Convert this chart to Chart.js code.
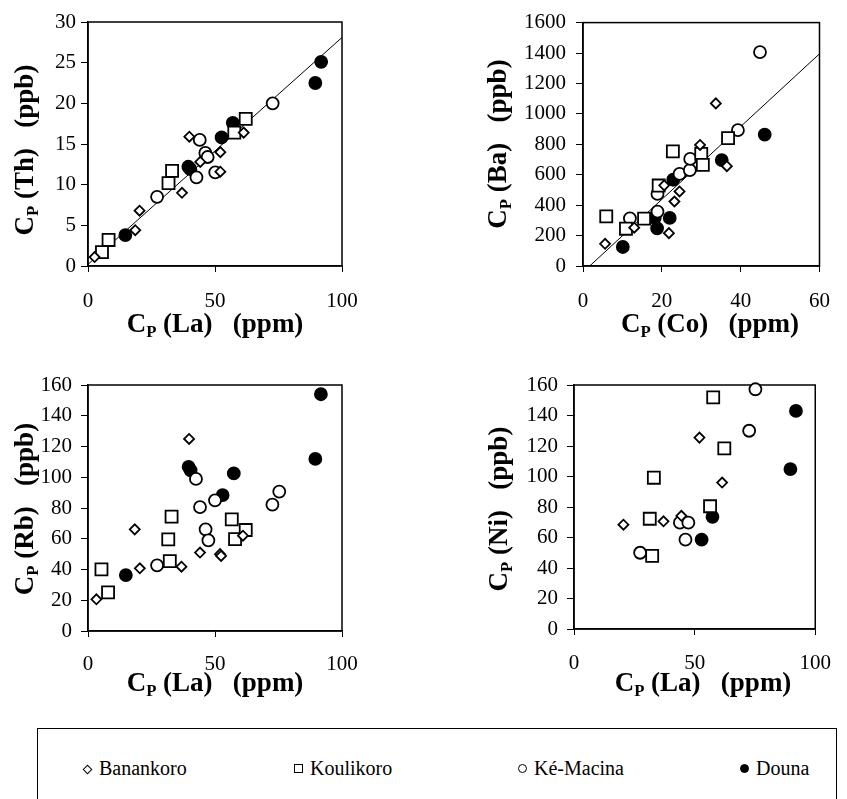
<!DOCTYPE html>
<html>
<head>
<meta charset="utf-8">
<script src="https://cdn.jsdelivr.net/npm/chart.js@4.4.0/dist/chart.umd.min.js"></script>
<style>
body { margin: 0; background: #fff; }
#page { position: relative; width: 847px; height: 799px; overflow: hidden; background: #fff;
        font-family: "Liberation Serif", "Times New Roman", serif; color: #000; }
canvas { position: absolute; }
.title { position: absolute; font-weight: bold; font-size: 27px; white-space: pre; line-height: 1;
         transform: translate(-50%, -50%); }
.title.rot { transform: translate(-50%, -50%) rotate(-90deg); }
.title sub { font-size: 0.62em; vertical-align: -0.3em; line-height: 0; }
#legend { position: absolute; left: 37px; top: 728px; width: 798px; height: 90px; border: 1.5px solid #000; }
.item { position: absolute; top: 28px; font-size: 20px; white-space: nowrap; }
.sym { display: inline-block; box-sizing: border-box; border: 1.6px solid #000; background: #fff; margin-right: 7px; vertical-align: 2px; }
.sym.diamond { width: 7px; height: 7px; transform: rotate(45deg); margin-left: 1px; margin-right: 8px; }
.sym.square { width: 9px; height: 9px; }
.sym.circle { width: 9px; height: 9px; border-radius: 50%; }
.sym.dot { width: 9px; height: 9px; border-radius: 50%; background: #000; }
</style>
</head>
<body>
<div id="page">
  <canvas id="th" width="420" height="340" style="left:0;top:0"></canvas>
  <canvas id="ba" width="427" height="340" style="left:420px;top:0"></canvas>
  <canvas id="rb" width="420" height="330" style="left:0;top:340px"></canvas>
  <canvas id="ni" width="427" height="330" style="left:420px;top:340px"></canvas>

  <div class="title rot" style="left:24px;top:150px">C<sub>P</sub> (Th)   (ppb)</div>
  <div class="title" style="left:215px;top:323px">C<sub>P</sub> (La)   (ppm)</div>
  <div class="title rot" style="left:497px;top:144px">C<sub>P</sub> (Ba)   (ppb)</div>
  <div class="title" style="left:710px;top:323px">C<sub>P</sub> (Co)   (ppm)</div>
  <div class="title rot" style="left:24px;top:509px">C<sub>P</sub> (Rb)   (ppb)</div>
  <div class="title" style="left:215px;top:682px">C<sub>P</sub> (La)   (ppm)</div>
  <div class="title rot" style="left:498px;top:509px">C<sub>P</sub> (Ni)   (ppb)</div>
  <div class="title" style="left:703px;top:682px">C<sub>P</sub> (La)   (ppm)</div>

  <div id="legend">
    <div class="item" style="left:45px"><span class="sym diamond"></span>Banankoro</div>
    <div class="item" style="left:256px"><span class="sym square"></span>Koulikoro</div>
    <div class="item" style="left:480px"><span class="sym circle"></span>Ké-Macina</div>
    <div class="item" style="left:702px"><span class="sym dot"></span>Douna</div>
  </div>
</div>

<script>
// sites, in legend order
const sites = ["Banankoro", "Koulikoro", "Ké-Macina", "Douna"]

// Th (ppb) vs La (ppm)
const thBanankoro = [[2.6,1.1],[18.6,4.4],[20.3,6.8],[37,9.0],[39.9,15.9],[44.2,12.8],[52.1,14.0],[52.1,11.6],[61.3,16.4]]
const thKoulikoro = [[5.5,1.7],[8.1,3.2],[31.7,10.2],[33.1,11.7],[57.6,16.4],[62.1,18.1]]
const thKeMacina  = [[27.2,8.5],[42.7,10.9],[44,15.5],[46.2,13.9],[47.1,13.4],[50.1,11.5],[72.7,20.0]]
const thDouna     = [[14.7,3.8],[39.5,12.2],[40.3,11.9],[52.6,15.8],[57.0,17.6],[89.5,22.5],[91.8,25.1]]
const thLine      = [[0,0.2],[100,28.1]]
const thXTicks = [0, 50, 100]
const thYTicks = [0, 5, 10, 15, 20, 25, 30]

// Ba (ppb) vs Co (ppm)
const baBanankoro = [[5.6,146],[13.0,252],[20.6,530],[21.8,216],[23.2,424],[24.5,490],[29.7,796],[33.7,1069],[36.5,656]]
const baKoulikoro = [[5.9,326],[10.9,245],[15.5,311],[19.2,529],[22.8,753],[30.0,737],[30.4,665],[36.8,841]]
const baKeMacina  = [[11.9,313],[18.9,474],[18.9,358],[24.5,605],[27.1,630],[27.2,704],[39.3,893],[44.9,1406]]
const baDouna     = [[10.1,125],[18.2,317],[18.8,248],[22.0,316],[22.9,567],[35.2,696],[46.1,864]]
const baLine      = [[1.7,0],[60,1395]]
const baXTicks = [0, 20, 40, 60]
const baYTicks = [0, 200, 400, 600, 800, 1000, 1200, 1400, 1600]

// Rb (ppb) vs La (ppm)
const rbBanankoro = [[3.3,20.6],[18.4,66.1],[20.4,40.8],[36.8,41.8],[39.8,124.9],[44.1,51.0],[52,50],[52.4,48.8],[61,62]]
const rbKoulikoro = [[5.3,40.1],[7.9,25.1],[31.6,59.6],[32.2,45.5],[32.9,74.4],[56.6,72.6],[57.9,59.8],[62.1,65.7]]
const rbKeMacina  = [[27.2,42.7],[42.5,98.9],[44.1,80.6],[46.3,66.1],[47.4,59],[50,85],[72.6,82.2],[75.3,90.7]]
const rbDouna     = [[14.9,36.4],[39.6,106.8],[40.4,104.5],[53,88.4],[57.4,102.5],[89.5,111.9],[91.7,154]]

// Ni (ppb) vs La (ppm)
const niBanankoro = [[20.5,68.4],[37.1,70.6],[44.5,74.2],[52,125.5],[61.4,96]]
const niKoulikoro = [[31.4,72.3],[32.4,47.9],[33.1,99.2],[56.4,80.5],[57.7,151.9],[62.3,118.5]]
const niKeMacina  = [[27.4,50],[43.9,69.7],[46.2,58.6],[47.4,69.7],[72.6,130],[75.2,157.2]]
const niDouna     = [[52.9,58.6],[57.4,73.6],[89.7,104.9],[92,143]]

const laTicks = [0, 50, 100]
const traceTicks = [0, 20, 40, 60, 80, 100, 120, 140, 160]

const tickFont = { family: "'Liberation Serif', 'Times New Roman', serif", size: 21 }

function pts(arr) {
    return arr.map(p => ({ x: p[0], y: p[1] }))
}

// marker look per site
const markers = [
    { pointStyle: 'rectRot', pointRadius: 5,   backgroundColor: '#fff' },
    { pointStyle: 'rect',    pointRadius: 8.5, backgroundColor: '#fff' },
    { pointStyle: 'circle',  pointRadius: 6,   backgroundColor: '#fff' },
    { pointStyle: 'circle',  pointRadius: 6,   backgroundColor: '#000' },
]

function siteSets(groups) {
    return groups.map((g, i) => ({
        label: sites[i],
        data: pts(g),
        pointStyle: markers[i].pointStyle,
        pointRadius: markers[i].pointRadius,
        pointHoverRadius: markers[i].pointRadius,
        backgroundColor: markers[i].backgroundColor,
        borderColor: '#000',
        pointBorderWidth: 1.8,
        clip: false,
    }))
}

// box round the plot area
const frameBox = {
    id: 'frameBox',
    beforeDatasetsDraw(chart) {
        const a = chart.chartArea
        const ctx = chart.ctx
        ctx.save()
        ctx.strokeStyle = '#000'
        ctx.lineWidth = 1.5
        ctx.strokeRect(a.left, a.top, a.right - a.left, a.bottom - a.top)
        ctx.restore()
    }
}

function axis(ticks, tickLen, pad, fit) {
    return {
        type: 'linear',
        min: ticks[0],
        max: ticks[ticks.length - 1],
        afterBuildTicks: s => { s.ticks = ticks.map(v => ({ value: v })) },
        ticks: { color: '#000', font: tickFont, padding: pad, maxRotation: 0, autoSkip: false,
                 callback: v => String(v) },
        grid: { display: true, drawOnChartArea: false, drawTicks: true, tickLength: tickLen, color: '#000', lineWidth: 1 },
        border: { display: true, color: '#000', width: 1.5 },
        afterFit: fit,
    }
}

function makePanel(id, groups, line, xTicks, yTicks, f) {
    let datasets = siteSets(groups)
    if (line) {
        datasets.unshift({
            type: 'line',
            data: pts(line),
            borderColor: '#000',
            borderWidth: 1,
            pointRadius: 0,
            fill: false,
            order: 10,
        })
    }
    return new Chart(document.getElementById(id).getContext('2d'), {
        type: 'scatter',
        data: { datasets: datasets },
        options: {
            responsive: false,
            animation: false,
            devicePixelRatio: 1,
            layout: { padding: { top: f.top, right: f.right, bottom: f.bottom, left: 0 } },
            plugins: { legend: { display: false }, tooltip: { enabled: false } },
            scales: {
                x: axis(xTicks, 6, f.xPad, s => { s.height = f.xHeight }),
                y: axis(yTicks, 7, f.yPad, s => { s.width = f.yWidth }),
            }
        },
        plugins: [frameBox]
    })
}

makePanel('th', [thBanankoro, thKoulikoro, thKeMacina, thDouna], thLine, thXTicks, thYTicks,
    { top: 22, right: 78, bottom: 26, xHeight: 48, yWidth: 88, xPad: 17, yPad: 5 })
makePanel('ba', [baBanankoro, baKoulikoro, baKeMacina, baDouna], baLine, baXTicks, baYTicks,
    { top: 22, right: 13, bottom: 26, xHeight: 48, yWidth: 163, xPad: 17, yPad: 10 })
makePanel('rb', [rbBanankoro, rbKoulikoro, rbKeMacina, rbDouna], null, laTicks, traceTicks,
    { top: 45, right: 78, bottom: 0, xHeight: 39, yWidth: 88, xPad: 15, yPad: 9 })
makePanel('ni', [niBanankoro, niKoulikoro, niKeMacina, niDouna], null, laTicks, traceTicks,
    { top: 45, right: 20, bottom: 0, xHeight: 41, yWidth: 154, xPad: 16, yPad: 9 })
</script>
</body>
</html>
